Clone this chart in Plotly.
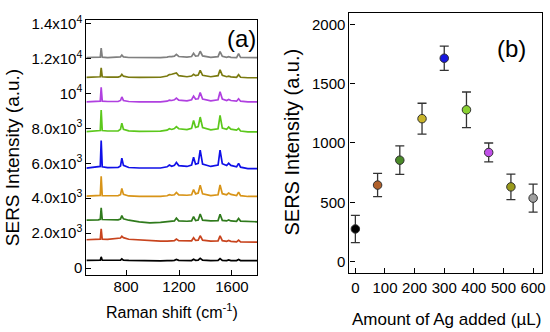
import plotly.graph_objects as go

# ---------------- data: panel (a) Raman spectra ----------------
raman_shift = [500, 550, 590, 605, 612, 620, 660, 740, 758, 768, 780, 820, 900, 980, 1060,
               1110, 1127, 1145, 1165, 1180, 1198, 1260, 1295, 1310, 1325, 1345, 1360, 1378,
               1440, 1495, 1510, 1527, 1560, 1575, 1592, 1635, 1650, 1665, 1720, 1790]

spec_0 = [440, 450, 445, 450, 640, 450, 445, 440, 450, 520, 455, 440, 420, 400, 410, 420, 440, 430,
          440, 490, 440, 420, 430, 500, 440, 450, 560, 450, 420, 440, 540, 440, 430, 470, 430, 430,
          490, 430, 420, 420]
spec_75 = [1620, 1630, 1640, 1660, 2250, 1650, 1640, 1680, 1720, 1820, 1740, 1650, 1600, 1560, 1540,
           1540, 1570, 1560, 1570, 1660, 1570, 1540, 1560, 1740, 1580, 1600, 1850, 1600, 1540, 1560,
           1840, 1570, 1530, 1580, 1530, 1500, 1600, 1500, 1480, 1480]
spec_150 = [2750, 2740, 2760, 2790, 3450, 2780, 2760, 2760, 2800, 3000, 2820, 2740, 2650, 2590, 2620,
            2660, 2700, 2680, 2700, 2860, 2700, 2680, 2700, 2950, 2720, 2750, 3100, 2740, 2700, 2720,
            3080, 2730, 2700, 2760, 2700, 2680, 2840, 2690, 2660, 2650]
spec_225 = [4120, 4130, 4140, 4160, 5250, 4150, 4140, 4150, 4200, 4560, 4220, 4130, 4110, 4100, 4110,
            4140, 4200, 4170, 4200, 4330, 4190, 4170, 4200, 4500, 4250, 4300, 4750, 4250, 4150, 4200,
            4760, 4260, 4200, 4300, 4220, 4150, 4350, 4150, 4100, 4100]
spec_300 = [5720, 5760, 5800, 5820, 7300, 5800, 5750, 5760, 5850, 6300, 5880, 5760, 5730, 5720, 5730,
            5800, 5900, 5830, 5880, 6050, 5870, 5820, 5900, 6350, 5950, 6000, 6750, 5950, 5820, 5900,
            6750, 5980, 5870, 6000, 5880, 5800, 6000, 5780, 5700, 5700]
spec_375 = [7820, 7840, 7860, 7880, 9050, 7880, 7850, 7860, 7950, 8300, 7950, 7860, 7830, 7820, 7840,
            7900, 7980, 7940, 7990, 8100, 7980, 7930, 8000, 8450, 8050, 8100, 8650, 8050, 7920, 7980,
            8750, 8020, 7950, 8080, 7960, 7900, 8000, 7850, 7800, 7800]
spec_450 = [9520, 9530, 9540, 9560, 10350, 9560, 9540, 9540, 9600, 9800, 9600, 9540, 9520, 9510, 9520,
            9560, 9620, 9600, 9640, 9740, 9620, 9580, 9640, 9850, 9680, 9700, 10050, 9680, 9580, 9640,
            10100, 9680, 9600, 9660, 9600, 9560, 9700, 9560, 9520, 9520]
spec_525 = [10920, 10920, 10940, 10960, 11470, 10960, 10940, 10940, 10990, 11100, 10990, 10930, 10920,
            10910, 10930, 11000, 11080, 11100, 11150, 11180, 11020, 10960, 11000, 11100, 11020, 11060,
            11320, 11040, 10960, 11020, 11360, 11040, 10960, 10990, 10950, 10930, 11080, 10930, 10900,
            10900]
spec_600 = [12060, 12070, 12070, 12080, 12600, 12080, 12060, 12060, 12100, 12200, 12100, 12060, 12050,
            12040, 12050, 12080, 12120, 12110, 12140, 12240, 12120, 12080, 12120, 12300, 12140, 12160,
            12420, 12150, 12070, 12110, 12400, 12130, 12070, 12110, 12070, 12060, 12280, 12060, 12050,
            12050]

spectra = [spec_0, spec_75, spec_150, spec_225, spec_300, spec_375, spec_450, spec_525, spec_600]
line_colors = ["#000000", "#c8441e", "#2f7a1c", "#d89418", "#1010e8", "#5cc81c", "#b040e0",
               "#7a7a10", "#808080"]

a_ytickvals = [0, 2000, 4000, 6000, 8000, 10000, 12000, 14000]
a_yticktext = ["0", "2.0x10<sup>3</sup>", "4.0x10<sup>3</sup>", "6.0x10<sup>3</sup>",
               "8.0x10<sup>3</sup>", "10<sup>4</sup>", "1.2x10<sup>4</sup>", "1.4x10<sup>4</sup>"]
a_xtickvals = [800, 1200, 1600]

# ---------------- data: panel (b) ----------------
ag_added = [0, 75, 150, 225, 300, 375, 450, 525, 600]
sers_int = [275, 645, 855, 1205, 1715, 1280, 920, 630, 535]
sers_err = [115, 98, 120, 130, 102, 150, 80, 108, 118]
marker_colors = ["#000000", "#b0602a", "#4a8a28", "#c8b42a", "#1818e0", "#88d030", "#c050e8",
                 "#9a9a1c", "#a0a0a0"]
b_tickvals_y = [0, 500, 1000, 1500, 2000]
b_tickvals_x = [0, 100, 200, 300, 400, 500, 600]

FONT = "Liberation Sans, Arial, sans-serif"

fig = go.Figure()
for s, c in zip(spectra, line_colors):
    fig.add_trace(go.Scatter(x=raman_shift, y=s, mode="lines",
                             line=dict(color=c, width=1.7), xaxis="x", yaxis="y",
                             showlegend=False, hoverinfo="skip"))

fig.add_trace(go.Scatter(x=ag_added, y=sers_int, mode="markers",
                         marker=dict(color=marker_colors, size=8.5,
                                     line=dict(color="#303030", width=1)),
                         error_y=dict(type="data", array=sers_err, color="#333333",
                                      thickness=1.3, width=4.5),
                         xaxis="x2", yaxis="y2", showlegend=False))

axis_common = dict(showline=True, linecolor="black", linewidth=1.2, mirror=True,
                   ticks="inside", ticklen=5, tickcolor="black", tickwidth=1,
                   showgrid=False, zeroline=False,
                   tickfont=dict(family=FONT, size=15, color="black"))


def label(text, x, y, size, angle=0):
    return dict(text=text, x=x / 550, y=1 - y / 332, xref="paper", yref="paper",
                xanchor="center", yanchor="middle", textangle=angle, showarrow=False,
                font=dict(family=FONT, size=size, color="black"))


fig.update_layout(
    width=550, height=332,
    margin=dict(l=0, r=0, t=0, b=0),
    paper_bgcolor="white", plot_bgcolor="white",
    xaxis=dict(domain=[87 / 550, 259 / 550], range=[500, 1790], tickvals=a_xtickvals,
               anchor="y", ticklabelstandoff=-2, **axis_common),
    yaxis=dict(domain=[(332 - 275) / 332, (332 - 13.5) / 332], range=[-420, 14200],
               tickvals=a_ytickvals, ticktext=a_yticktext, anchor="x", **axis_common),
    xaxis2=dict(domain=[352 / 550, 546 / 550], range=[-20, 630], tickvals=b_tickvals_x,
                anchor="y2", **axis_common),
    yaxis2=dict(domain=[(332 - 273) / 332, (332 - 5.7) / 332], range=[-100, 2100],
                tickvals=b_tickvals_y, anchor="x2", **axis_common),
    annotations=[
        label("(a)", 243, 32, 24),
        label("(b)", 515, 43, 24),
        label("SERS Intensity (a.u.)", 12, 154, 19, -90),
        label("SERS Intensity (a.u.)", 294, 138, 20, -90),
        label("Raman shift (cm<sup>-1</sup>)", 173, 312, 16),
        label("Amount of Ag added (µL)", 450, 320, 17),
    ],
)

fig.write_html("out.html", config={"displayModeBar": False},
               post_script="document.body.style.margin='0';document.body.style.overflow='hidden';")
